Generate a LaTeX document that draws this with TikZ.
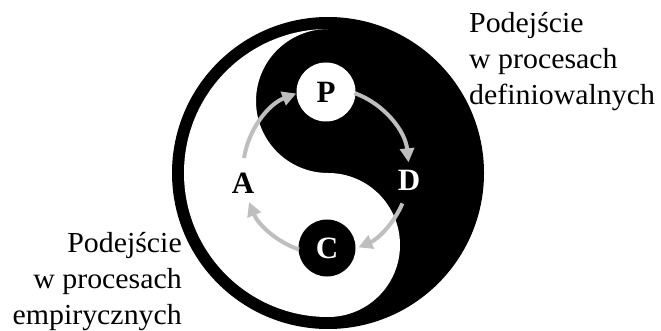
\documentclass[tikz,border=0pt]{standalone}
\usepackage{fontspec}
\setmainfont{Liberation Serif}
\newfontfamily\widefont[FakeStretch=1.03]{Liberation Serif}
\usetikzlibrary{arrows.meta}
\definecolor{arrowgray}{RGB}{190,190,190}
\tikzset{
  flow/.style={draw=arrowgray, line width=4pt, -{Triangle[length=14pt,width=14pt]}},
  label/.style={inner sep=0pt, font=\widefont\fontsize{29}{36}\selectfont},
  letter/.style={inner sep=0pt, font=\fontsize{31}{31}\selectfont\bfseries},
  dot/.style={circle, inner sep=0pt, minimum size=58pt}
}
\begin{document}
\begin{tikzpicture}[x=1pt,y=-1pt]
\useasboundingbox (0,0) rectangle (661,331);
% yin-yang
\fill[black] (328,173) circle[radius=156];
\fill[white] (328,29) arc[start angle=270,end angle=90,radius=144]
  arc[start angle=90,end angle=-90,radius=72]
  arc[start angle=90,end angle=270,radius=72] -- cycle;
% nodes
\node[dot, fill=white, letter, text=black, minimum size=59pt] (P) at (326,92) {P};
\node[dot, fill=black, letter, text=white, minimum size=57pt] (C) at (327,248) {C};
\node[letter, text=black] (A) at (243,183) {A};
\node[letter, text=white] (D) at (409,180) {D};
% cycle arrows
\coordinate (o) at (326,171);
\coordinate (a1) at ([shift={(189:83)}]o);
\coordinate (a2) at ([shift={(290:83)}]o);
\coordinate (a3) at ([shift={(23:83)}]o);
\coordinate (a4) at ([shift={(109:83)}]o);
\draw[flow] (a1) arc[start angle=189,end angle=249,radius=83];
\draw[flow] (a2) arc[start angle=290,end angle=354,radius=83];
\draw[flow] (a3) arc[start angle=23,end angle=67,radius=83];
\draw[flow] (a4) arc[start angle=109,end angle=158,radius=83];
% labels
\node[label, anchor=north west, align=left] (Ldef) at (469,12) {Podejście\\w procesach\\definiowalnych};
\node[label, anchor=north east, align=right] (Lemp) at (182,232) {Podejście\\w procesach\\empirycznych};
\end{tikzpicture}
\end{document}
